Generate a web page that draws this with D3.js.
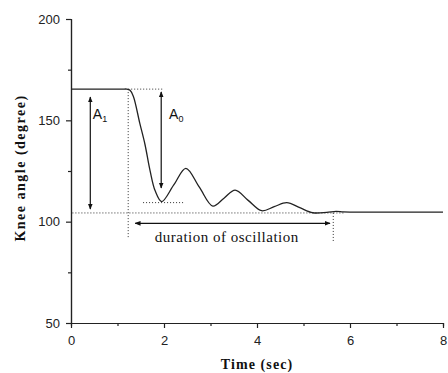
<!DOCTYPE html>
<html>
<head>
<meta charset="utf-8">
<script src="https://cdn.jsdelivr.net/npm/d3@7"></script>
<style>
  body { margin: 0; background: #fff; }
  .tick text { font-family: "Liberation Sans", Arial, sans-serif; font-size: 13px; fill: #222; }
  .domain, .tick line { stroke: #222; stroke-width: 1.2; }
</style>
</head>
<body>
<div class="chart"></div>
<script>
// knee angle trace
let timeSec   = [0, 1.1, 1.2, 1.27, 1.34, 1.48, 1.59, 1.70, 1.81, 1.95, 2.21, 2.47, 2.76, 3.05, 3.29, 3.53, 3.81, 4.1, 4.37, 4.64, 4.92, 5.2, 5.5, 5.7, 5.85, 6.0, 8.0];
let kneeAngle = [165.4, 165.4, 165.4, 164.8, 161.9, 148.5, 138.2, 125.2, 115.2, 109.9, 118.1, 126.3, 117, 107.7, 111.6, 115.6, 110.5, 105.4, 107.4, 109.4, 106.9, 104.4, 104.6, 105.1, 104.8, 104.7, 104.7];

let xTicks = [0, 2, 4, 6, 8];
let xMinor = [1, 3, 5, 7];
let yTicks = [50, 100, 150, 200];
let yMinor = [75, 125, 175];

// guide lines in data units: [t1, v1, t2, v2]
let dotted = [
	[0.03, 104.3, 5.9, 104.3],
	[1.23, 165.4, 1.98, 165.4],
	[1.55, 109.4, 2.41, 109.4],
	[1.23, 165.4, 1.23, 91.9],
	[5.64, 104.3, 5.64, 89.5]
];
let arrows = [
	[0.415, 161.5, 0.415, 106.2],
	[1.94, 164, 1.94, 116.6],
	[1.38, 99.2, 5.57, 99.2]
];
let labels = [
	{t: 0.47, v: 150.6, name: 'A', sub: '1'},
	{t: 2.11, v: 150.6, name: 'A', sub: '0'}
];

let margin = {top: 19, right: 5, bottom: 50, left: 71};
let width = 448 - margin.left - margin.right;
let height = 373 - margin.top - margin.bottom;

let svg = d3.select('.chart')
	.append('svg')
	.attr('width', 448)
	.attr('height', 373)
	.append('g')
	.attr('transform', 'translate(' + margin.left + ', ' + margin.top + ')');

let xScale = d3.scaleLinear().domain([0, 8]).range([0, width]);
let yScale = d3.scaleLinear().domain([50, 200]).range([height, 0]);

svg.append('defs').append('marker')
	.attr('id', 'head')
	.attr('viewBox', '0 0 10 10')
	.attr('refX', 9).attr('refY', 5)
	.attr('markerWidth', 5).attr('markerHeight', 5)
	.attr('orient', 'auto-start-reverse')
	.append('path')
	.attr('d', 'M0,1 L10,5 L0,9 Z')
	.style('fill', '#111');

// minor ticks
svg.append('g')
	.attr('transform', 'translate(0, ' + height + ')')
	.call(d3.axisBottom(xScale).tickValues(xMinor).tickSize(3).tickFormat(''));
svg.append('g')
	.call(d3.axisLeft(yScale).tickValues(yMinor).tickSize(3).tickFormat(''));

svg.append('g')
	.attr('transform', 'translate(0, ' + height + ')')
	.call(d3.axisBottom(xScale).tickValues(xTicks).tickSize(5).tickSizeOuter(0).tickPadding(8));
svg.append('g')
	.call(d3.axisLeft(yScale).tickValues(yTicks).tickSize(5).tickSizeOuter(0).tickPadding(6));

svg.selectAll('.dot')
	.data(dotted)
	.enter()
	.append('line')
	.attr('class', 'dot')
	.attr('x1', d => xScale(d[0])).attr('y1', d => yScale(d[1]))
	.attr('x2', d => xScale(d[2])).attr('y2', d => yScale(d[3]))
	.style('stroke', '#333')
	.style('stroke-width', 1)
	.style('stroke-dasharray', '1,2');

let line = d3.line()
	.x((d, i) => xScale(timeSec[i]))
	.y(d => yScale(d))
	.curve(d3.curveCatmullRom.alpha(0.5));

svg.append('path')
	.datum(kneeAngle)
	.attr('d', line)
	.style('stroke', '#222')
	.style('stroke-width', 1.3)
	.style('fill', 'none');

svg.selectAll('.arrow')
	.data(arrows)
	.enter()
	.append('line')
	.attr('class', 'arrow')
	.attr('x1', d => xScale(d[0])).attr('y1', d => yScale(d[1]))
	.attr('x2', d => xScale(d[2])).attr('y2', d => yScale(d[3]))
	.attr('marker-start', 'url(#head)')
	.attr('marker-end', 'url(#head)')
	.style('stroke', '#111')
	.style('stroke-width', 1.2);

let amp = svg.selectAll('.amp')
	.data(labels)
	.enter()
	.append('text')
	.attr('class', 'amp')
	.attr('x', d => xScale(d.t))
	.attr('y', d => yScale(d.v))
	.style('font-family', '"Liberation Sans", Arial, sans-serif')
	.style('font-size', '14px')
	.style('fill', '#111');
amp.append('tspan').text(d => d.name);
amp.append('tspan').attr('dy', 3).style('font-size', '9px').text(d => d.sub);

svg.append('text')
	.attr('x', xScale(3.35))
	.attr('y', yScale(90.2))
	.attr('text-anchor', 'middle')
	.style('font-family', '"Liberation Serif", "Times New Roman", serif')
	.style('font-size', '15px')
	.style('letter-spacing', '0.5px')
	.style('fill', '#111')
	.text('duration of oscillation');

svg.append('text')
	.attr('x', xScale(4))
	.attr('y', height + 46)
	.attr('text-anchor', 'middle')
	.style('font-family', '"Liberation Serif", "Times New Roman", serif')
	.style('font-weight', 'bold')
	.style('font-size', '14px')
	.style('letter-spacing', '1.1px')
	.style('fill', '#111')
	.text('Time (sec)');

svg.append('text')
	.attr('transform', 'translate(' + (25 - margin.left) + ', ' + (168 - margin.top) + ') rotate(-90)')
	.attr('text-anchor', 'middle')
	.style('font-family', '"Liberation Serif", "Times New Roman", serif')
	.style('font-weight', 'bold')
	.style('font-size', '14px')
	.style('letter-spacing', '1.5px')
	.style('fill', '#111')
	.text('Knee angle (degree)');
</script>
</body>
</html>
